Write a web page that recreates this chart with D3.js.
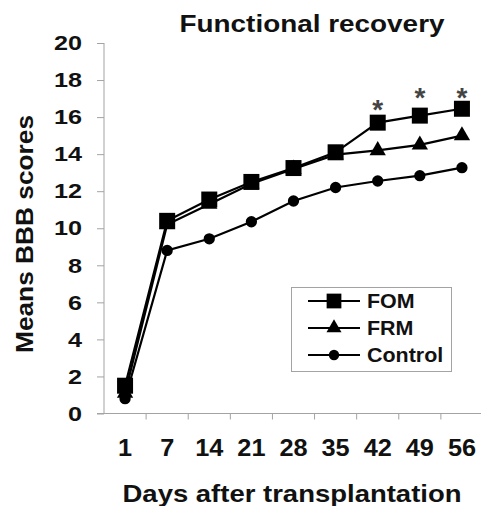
<!DOCTYPE html>
<html>
<head>
<meta charset="utf-8">
<script src="https://cdn.jsdelivr.net/npm/d3@7"></script>
<style>
body { margin: 0; background: #fff; }
text { font-family: "Liberation Sans", Arial, sans-serif; font-weight: bold; }
</style>
</head>
<body>
<div id="svg"></div>
<script>
var width = 481;
var height = 506;

// data
var days = [1, 7, 14, 21, 28, 35, 42, 49, 56];
var fom = [1.5, 10.4, 11.55, 12.5, 13.25, 14.1, 15.7, 16.08, 16.45];
var frm = [1.1, 10.2, 11.3, 12.4, 13.2, 13.97, 14.2, 14.5, 15.0];
var control = [0.8, 8.8, 9.43, 10.35, 11.47, 12.2, 12.55, 12.84, 13.27];
var star_days = [42, 49, 56];
var star_levels = [16.75, 17.4, 17.4];
var y_ticks = [0, 2, 4, 6, 8, 10, 12, 14, 16, 18, 20];

var series = [
	{name: 'FOM', values: fom, shape: d3.symbolSquare, size: 256},
	{name: 'FRM', values: frm, shape: d3.symbolTriangle, size: 115},
	{name: 'Control', values: control, shape: d3.symbolCircle, size: 100}
];

var margin = {left: 104, right: -2, top: 43, bottom: 92.5};
var axis_colour = '#a3a3a3';

var canvas = d3.select('#svg')
	.append('svg')
	.attr('width', width)
	.attr('height', height);

var x = d3.scaleBand()
	.domain(days)
	.range([margin.left, width - margin.right])
	.paddingInner(0)
	.paddingOuter(0);

var y = d3.scaleLinear()
	.domain([0, 20])
	.range([height - margin.bottom, margin.top]);

function cx(d) { return x(d) + x.bandwidth() / 2; }

// y axis
var y_axis = canvas.append('g')
	.attr('transform', 'translate(' + margin.left + ',0)')
	.call(d3.axisLeft(y).tickValues(y_ticks).tickSize(7).tickPadding(15));
y_axis.select('.domain').attr('stroke', axis_colour).attr('d', 'M0,' + y(0) + 'V' + y(20));
y_axis.selectAll('.tick line').attr('stroke', axis_colour);
y_axis.selectAll('.tick text')
	.attr('fill', '#111')
	.style('font-size', '21px')
	.attr('transform', 'translate(-22,0) scale(1.2,1) translate(22,0)');

// x axis (labels in the middle of each band, ticks on the band edges)
var x_axis = canvas.append('g')
	.attr('transform', 'translate(0,' + y(0) + ')')
	.call(d3.axisBottom(x).tickSize(0).tickPadding(26));
x_axis.select('.domain').attr('stroke', axis_colour).attr('d', 'M' + (margin.left - 7) + ',0H' + width);
x_axis.selectAll('.tick text')
	.attr('fill', '#111')
	.style('font-size', '23px')
	.attr('transform', 'scale(1.1,1)');

x_axis.selectAll('.edge')
	.data(days.slice(1))
	.enter().append('line')
	.attr('class', 'edge')
	.attr('x1', (d) => x(d))
	.attr('x2', (d) => x(d))
	.attr('y1', 0)
	.attr('y2', 6)
	.attr('stroke', axis_colour);

// lines and markers
var line = d3.line()
	.x((d, i) => cx(days[i]))
	.y((d) => y(d));

series.slice().reverse().forEach(function(s) {
	canvas.append('path')
		.attr('d', line(s.values))
		.attr('fill', 'none')
		.attr('stroke', '#000')
		.attr('stroke-width', 2.2);
});

series.slice().reverse().forEach(function(s) {
	canvas.append('g').selectAll('path')
		.data(s.values)
		.enter().append('path')
		.attr('transform', (d, i) => 'translate(' + cx(days[i]) + ',' + y(d) + ')')
		.attr('d', d3.symbol().type(s.shape).size(s.size))
		.attr('fill', '#000');
});

// significance stars
canvas.selectAll('.star')
	.data(star_days)
	.enter().append('text')
	.attr('class', 'star')
	.attr('x', (d) => cx(d))
	.attr('y', (d, i) => y(star_levels[i]) + 16)
	.attr('text-anchor', 'middle')
	.attr('fill', '#444')
	.style('font-size', '28px')
	.text('*');

// legend
var legend = canvas.append('g');
legend.append('rect')
	.attr('x', 291.5)
	.attr('y', 287.5)
	.attr('width', 160)
	.attr('height', 84)
	.attr('fill', '#fff')
	.attr('stroke', axis_colour);

var entry = legend.selectAll('.entry')
	.data(series)
	.enter().append('g')
	.attr('class', 'entry')
	.attr('transform', (d, i) => 'translate(0,' + (301 + i * 27) + ')');
entry.append('line')
	.attr('x1', 308).attr('x2', 360)
	.attr('stroke', '#000').attr('stroke-width', 2);
entry.append('path')
	.attr('transform', 'translate(334,0)')
	.attr('d', (d) => d3.symbol().type(d.shape).size(d.size * 0.85)())
	.attr('fill', '#000');
entry.append('text')
	.attr('x', 0)
	.attr('y', 7)
	.attr('transform', 'translate(367,0) scale(1.1,1)')
	.style('font-size', '19.5px')
	.attr('fill', '#111')
	.text((d) => d.name);

// titles
canvas.append('text')
	.attr('x', 312)
	.attr('y', 32)
	.attr('text-anchor', 'middle')
	.attr('textLength', 265)
	.attr('lengthAdjust', 'spacingAndGlyphs')
	.style('font-size', '23px')
	.attr('fill', '#111')
	.text('Functional recovery');

canvas.append('text')
	.attr('x', 292)
	.attr('y', 502)
	.attr('text-anchor', 'middle')
	.attr('textLength', 339)
	.attr('lengthAdjust', 'spacingAndGlyphs')
	.style('font-size', '24px')
	.attr('fill', '#111')
	.text('Days after transplantation');

canvas.append('text')
	.attr('transform', 'translate(33,234) rotate(-90)')
	.attr('text-anchor', 'middle')
	.attr('textLength', 238)
	.attr('lengthAdjust', 'spacingAndGlyphs')
	.style('font-size', '24px')
	.attr('fill', '#111')
	.text('Means BBB scores');
</script>
</body>
</html>
